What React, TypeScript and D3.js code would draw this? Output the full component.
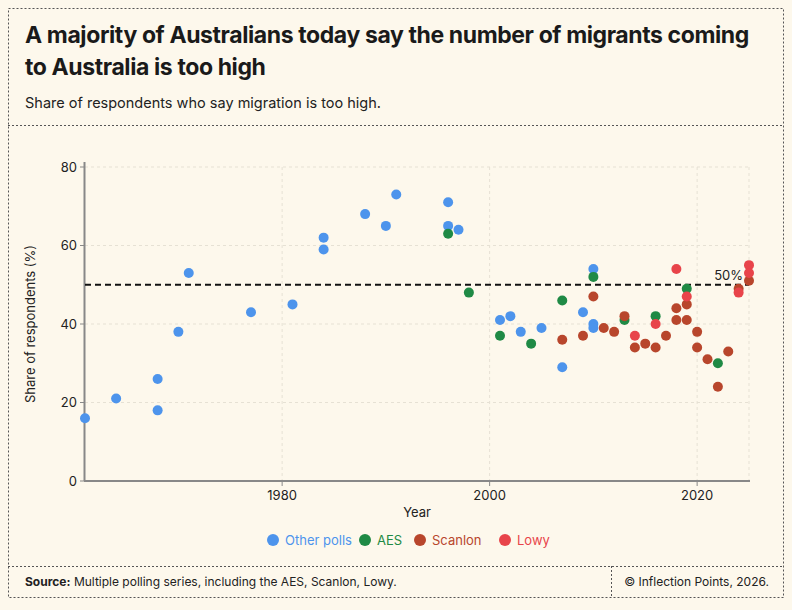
import * as d3 from "d3";

type Pt = [number, number];

const otherPolls: Pt[] = [
  [1961, 16], [1964, 21], [1968, 26], [1968, 18], [1970, 38], [1971, 53], [1977, 43], [1981, 45],
  [1984, 62], [1984, 59], [1988, 68], [1990, 65], [1991, 73], [1996, 71], [1996, 65], [1997, 64],
  [2001, 41], [2002, 42], [2003, 38], [2005, 39], [2007, 29], [2009, 43], [2010, 54], [2010, 40], [2010, 39],
];
const aes: Pt[] = [
  [1996, 63], [1998, 48], [2001, 37], [2004, 35], [2007, 46], [2010, 52], [2013, 41], [2016, 42], [2019, 49], [2022, 30],
];
const scanlon: Pt[] = [
  [2007, 36], [2009, 37], [2010, 47], [2011, 39], [2012, 38], [2013, 42], [2014, 34], [2015, 35], [2016, 34],
  [2017, 37], [2018, 44], [2018, 41], [2019, 45], [2019, 41], [2020, 38], [2020, 34], [2021, 31], [2022, 24],
  [2023, 33], [2024, 49], [2025, 51],
];
const lowy: Pt[] = [
  [2014, 37], [2016, 40], [2018, 54], [2019, 47], [2024, 48], [2025, 55], [2025, 53],
];

const series = [
  { name: "Other polls", color: "#4d94ec", data: otherPolls },
  { name: "AES", color: "#1f8a45", data: aes },
  { name: "Scanlon", color: "#b8462c", data: scanlon },
  { name: "Lowy", color: "#e8444a", data: lowy },
];
const xTicks = [1980, 2000, 2020];
const yTicks = [0, 20, 40, 60, 80];

const W = 792, H = 610;
const bg = "#fdf8ec";
const font = "Inter, 'Noto Sans', sans-serif";

export default function App() {
  const x = d3.scaleLinear().domain([1961, 2025]).range([85, 749]);
  const y = d3.scaleLinear().domain([0, 80]).range([481, 167]);
  const legendX = [268, 360, 415, 500];
  return (
    <svg width={W} height={H} style={{ position: "absolute", left: 0, top: 0, background: bg, fontFamily: font }}>
      <rect x={0} y={0} width={W} height={H} fill={bg} />
      <rect x={8.5} y={8.5} width={775} height={589} fill="none" stroke="#555" strokeDasharray="2,2" />
      <line x1={8} x2={784} y1={125.5} y2={125.5} stroke="#555" strokeDasharray="2,2" />
      <line x1={8} x2={784} y1={566.5} y2={566.5} stroke="#555" strokeDasharray="2,2" />
      <line x1={611.5} x2={611.5} y1={566} y2={598} stroke="#555" strokeDasharray="2,2" />
      <text x={25} y={43} fontSize={23} fontWeight={700} fill="#1a1a1a" letterSpacing={-0.4}>A majority of Australians today say the number of migrants coming</text>
      <text x={25} y={75} fontSize={23} fontWeight={700} fill="#1a1a1a" letterSpacing={-0.4}>to Australia is too high</text>
      <text x={25} y={108} fontSize={14.5} fill="#222">Share of respondents who say migration is too high.</text>

      {yTicks.map(t => (
        <g key={t}>
          <line x1={85} x2={749} y1={y(t)} y2={y(t)} stroke="#e6e1d4" strokeDasharray="3,3" />
          <line x1={80} x2={85} y1={y(t)} y2={y(t)} stroke="#888" />
          <text x={77} y={y(t) + 4.5} fontSize={13} textAnchor="end" fill="#222">{t}</text>
        </g>
      ))}
      {xTicks.map(t => (
        <g key={t}>
          <line x1={x(t)} x2={x(t)} y1={167} y2={481} stroke="#e6e1d4" strokeDasharray="3,3" />
          <line x1={x(t)} x2={x(t)} y1={481} y2={486} stroke="#888" />
          <text x={x(t)} y={500} fontSize={13} textAnchor="middle" fill="#222">{t}</text>
        </g>
      ))}
      <line x1={749} x2={749} y1={167} y2={481} stroke="#e6e1d4" strokeDasharray="3,3" />
      <line x1={84.5} x2={84.5} y1={162} y2={481} stroke="#888" strokeWidth={2} />
      <line x1={84} x2={750} y1={481} y2={481} stroke="#888" strokeWidth={2} />
      <text x={417} y={517} fontSize={13} textAnchor="middle" fill="#222">Year</text>
      <text transform={`translate(35,${y(40)}) rotate(-90)`} fontSize={13} textAnchor="middle" fill="#222">Share of respondents (%)</text>

      <line x1={85} x2={749} y1={y(50)} y2={y(50)} stroke="#111" strokeWidth={2} strokeDasharray="6,4" />
      <text x={743} y={y(50) - 5} fontSize={13} textAnchor="end" fill="#222">50%</text>

      {series.map(s => s.data.map((d, i) => (
        <circle key={s.name + i} cx={x(d[0])} cy={y(d[1])} r={5} fill={s.color} />
      )))}

      {series.map((s, i) => (
        <g key={s.name}>
          <circle cx={legendX[i] + 5} cy={540} r={6} fill={s.color} />
          <text x={legendX[i] + 17} y={545} fontSize={13} fill={s.color}>{s.name}</text>
        </g>
      ))}

      <text x={25} y={586} fontSize={12} fill="#222"><tspan fontWeight={700}>Source:</tspan> Multiple polling series, including the AES, Scanlon, Lowy.</text>
      <text x={769} y={586} fontSize={12} textAnchor="end" fill="#222">© Inflection Points, 2026.</text>
    </svg>
  );
}
